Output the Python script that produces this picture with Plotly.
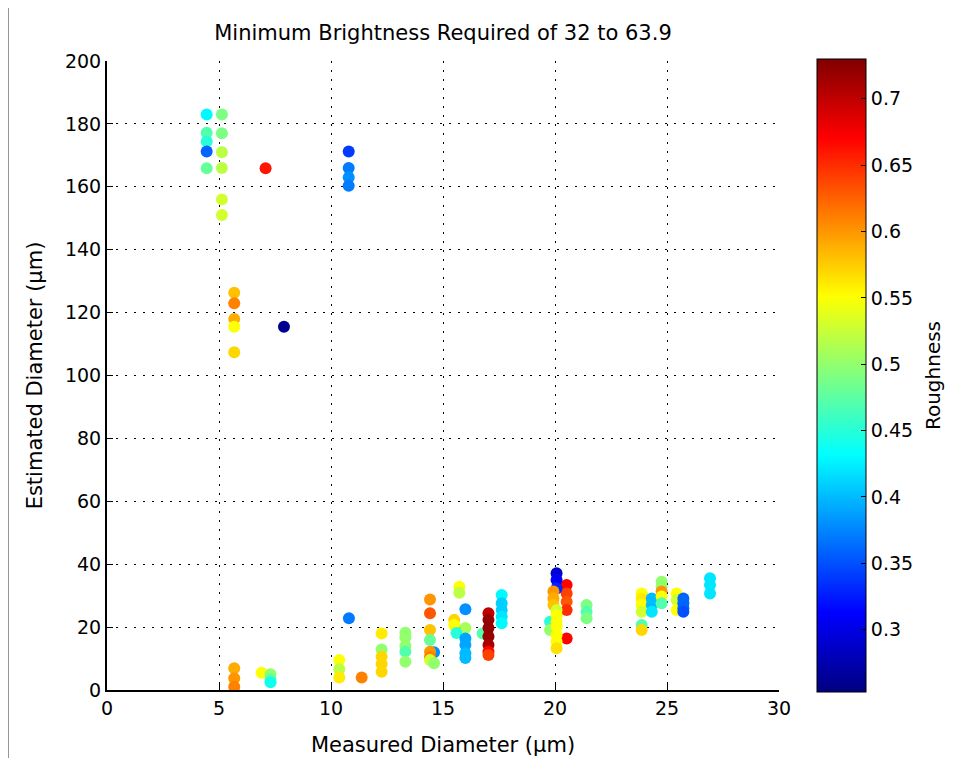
import plotly.graph_objects as go

# Measured diameter (um)
measured = [
    4.45, 4.45, 4.45, 4.45, 4.45,
    5.13, 5.13, 5.13, 5.13, 5.13, 5.13,
    7.08,
    10.79, 10.79, 10.79, 10.79,
    5.68, 5.68, 5.68, 5.68, 5.68,
    7.9,
    5.68, 5.68, 5.68,
    6.9, 7.3, 7.3, 7.3,
    10.37, 10.37, 10.37, 10.8, 11.37,
    12.26, 12.26, 12.26, 12.26, 12.26,
    13.32, 13.32, 13.32, 13.32, 13.32,
    14.6, 14.42, 14.42, 14.42, 14.42, 14.42, 14.42, 14.42, 14.6,
    15.73, 15.73, 16.0, 15.5, 15.5, 16.0, 15.6,
    16.0, 16.0, 16.0, 16.0,
    16.77,
    17.03, 17.03, 17.03, 17.03, 17.03, 17.03, 17.03,
    17.62, 17.62, 17.62, 17.62, 17.62,
    20.52, 20.52, 20.52, 20.52, 20.52,
    20.07, 20.07, 20.07,
    19.93, 19.93, 19.93,
    19.78, 19.78,
    20.07, 20.07, 20.07, 20.07, 20.07, 20.07, 20.07,
    21.41, 21.41, 21.41,
    23.87, 23.87, 23.87, 23.87, 23.87, 23.87,
    24.32, 24.32, 24.32,
    24.76, 24.76, 24.76, 24.76, 24.76,
    25.43, 25.43, 25.43,
    25.73, 25.73, 25.73, 25.73,
    26.92, 26.92, 26.92,
]

# Estimated diameter (um)
estimated = [
    183.0, 177.2, 174.4, 171.2, 165.9,
    183.0, 177.0, 171.0, 166.0, 156.0, 151.0,
    165.9,
    171.2, 166.0, 163.0, 160.3,
    126.3, 123.0, 118.0, 115.5, 107.4,
    115.5,
    6.9, 3.7, 1.0,
    5.5, 5.0, 3.5, 2.5,
    9.5, 6.6, 4.0, 22.8, 4.0,
    18.0, 12.9, 10.6, 8.3, 5.8,
    18.2, 16.7, 14.0, 12.2, 9.0,
    12.0, 28.8, 24.4, 19.1, 15.9, 12.2, 10.6, 9.5, 8.5,
    32.8, 30.9, 25.7, 22.3, 20.7, 19.7, 18.1,
    16.4, 14.3, 11.7, 10.2,
    18.0,
    24.4, 22.3, 19.7, 17.0, 14.3, 12.2, 11.1,
    30.2, 27.6, 25.4, 23.3, 21.2,
    33.4, 30.7, 28.1, 25.4, 16.4,
    37.1, 35.0, 32.3,
    31.3, 29.1, 27.0,
    21.7, 19.1,
    25.4, 23.8, 21.7, 20.1, 17.5, 15.4, 13.3,
    27.0, 24.9, 22.8,
    30.7, 29.1, 27.0, 24.9, 20.7, 19.1,
    29.1, 27.0, 24.9,
    34.4, 32.8, 31.3, 29.7, 27.6,
    30.7, 28.6, 25.4,
    29.1, 27.6, 26.0, 24.9,
    35.5, 33.4, 30.7,
]

# Roughness (colour)
roughness = [
    0.43, 0.47, 0.45, 0.36, 0.48,
    0.49, 0.49, 0.52, 0.52, 0.53, 0.53,
    0.66,
    0.34, 0.37, 0.38, 0.37,
    0.58, 0.61, 0.59, 0.55, 0.57,
    0.26,
    0.59, 0.60, 0.61,
    0.55, 0.50, 0.48, 0.44,
    0.55, 0.52, 0.56, 0.37, 0.61,
    0.56, 0.50, 0.57, 0.57, 0.57,
    0.50, 0.50, 0.50, 0.47, 0.50,
    0.38, 0.60, 0.63, 0.58, 0.48, 0.60, 0.61, 0.53, 0.50,
    0.55, 0.52, 0.38, 0.57, 0.55, 0.51, 0.45,
    0.39, 0.39, 0.40, 0.40,
    0.47,
    0.70, 0.72, 0.72, 0.72, 0.71, 0.67, 0.64,
    0.43, 0.41, 0.41, 0.42, 0.43,
    0.67, 0.64, 0.63, 0.65, 0.67,
    0.29, 0.31, 0.33,
    0.60, 0.59, 0.58,
    0.45, 0.50,
    0.53, 0.55, 0.55, 0.55, 0.55, 0.55, 0.565,
    0.49, 0.47, 0.49,
    0.55, 0.56, 0.55, 0.53, 0.47, 0.57,
    0.40, 0.40, 0.42,
    0.50, 0.50, 0.60, 0.55, 0.47,
    0.55, 0.53, 0.55,
    0.36, 0.36, 0.36, 0.35,
    0.42, 0.42, 0.42,
]

cbar_ticks = [0.3, 0.35, 0.4, 0.45, 0.5, 0.55, 0.6, 0.65, 0.7]
cbar_labels = ["0.3", "0.35", "0.4", "0.45", "0.5", "0.55", "0.6", "0.65", "0.7"]

jet = [
    [0.0, "rgb(0,0,128)"],
    [0.125, "rgb(0,0,255)"],
    [0.375, "rgb(0,255,255)"],
    [0.625, "rgb(255,255,0)"],
    [0.875, "rgb(255,0,0)"],
    [1.0, "rgb(128,0,0)"],
]

FONT = "DejaVu Sans, Verdana, sans-serif"

# The page body has an 8px margin, so the figure is drawn 8px in from the
# window's top-left corner; size and margins are chosen accordingly.
W, H = 948, 750
L, T = 99, 53
R = W - (779 - 8)
B = H - (690 - 8)
PW, PH = 672, 629

fig = go.Figure(
    go.Scatter(
        x=measured,
        y=estimated,
        mode="markers",
        marker=dict(
            size=12,
            color=roughness,
            colorscale=jet,
            cmin=0.253,
            cmax=0.730,
            line=dict(width=0),
            colorbar=dict(
                title=dict(text="Roughness", side="right",
                           font=dict(size=20, color="black", family=FONT)),
                x=(817 - 8 - L) / PW, xanchor="left", y=0.5, yanchor="middle",
                xpad=0, ypad=0,
                len=633 / PH, lenmode="fraction",
                thickness=49, thicknessmode="pixels",
                outlinewidth=1, outlinecolor="black",
                tickvals=cbar_ticks,
                ticktext=[t + "\u00a0" for t in cbar_labels],
                ticks="inside", ticklen=5, tickcolor="black",
                tickfont=dict(size=19, color="black", family=FONT),
            ),
        ),
        showlegend=False,
    )
)

grid = dict(gridcolor="black", griddash="2px,7px", gridwidth=1)

fig.update_layout(
    width=W, height=H,
    margin=dict(l=L, r=R, t=T, b=B, autoexpand=False),
    paper_bgcolor="white", plot_bgcolor="white",
    font=dict(family=FONT, size=19, color="black"),
    title=dict(text="Minimum Brightness Required of 32 to 63.9",
               x=(L + L + PW) / 2 / W, xanchor="center",
               y=1 - 25 / H, yanchor="middle",
               font=dict(size=21, color="black", family=FONT)),
    xaxis=dict(range=[0, 30], dtick=5, tick0=0, showline=True, linecolor="black",
               linewidth=2, ticks="inside", ticklen=6, tickcolor="black",
               zeroline=False, showgrid=True, **grid,
               title=dict(text="Measured Diameter (µm)", standoff=20,
                          font=dict(size=21, color="black")),
               tickfont=dict(size=19, color="black")),
    yaxis=dict(range=[0, 200], dtick=20, tick0=0, showline=True, linecolor="black",
               linewidth=2, ticks="inside", ticklen=6, tickcolor="black",
               zeroline=False, showgrid=True, **grid,
               title=dict(text="Estimated Diameter (µm)", standoff=17,
                          font=dict(size=21, color="black")),
               tickfont=dict(size=19, color="black")),
    shapes=[dict(type="line", xref="paper", yref="paper",
                 x0=-L / PW, x1=-L / PW, y0=-B / PH, y1=(PH + T) / PH,
                 line=dict(color="rgb(150,150,150)", width=2))],
)

fig.write_html("out.html")
